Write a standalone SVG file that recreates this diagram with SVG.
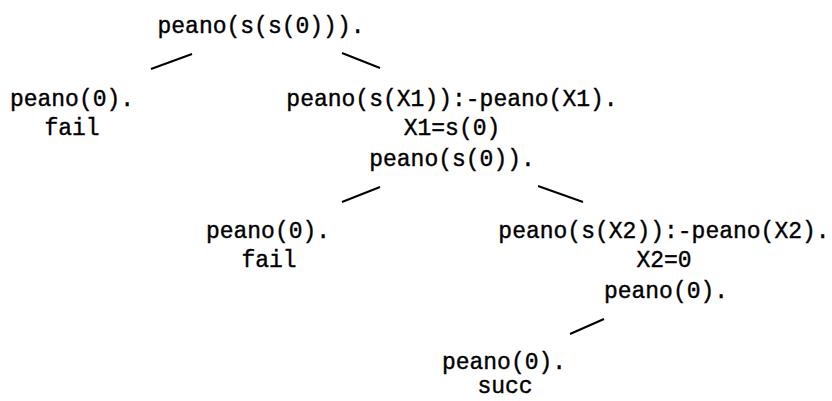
<svg xmlns="http://www.w3.org/2000/svg" width="832" height="401" viewBox="0 0 832 401">
<style>
text{font-family:"Liberation Mono","DejaVu Sans Mono",monospace;font-size:23px;fill:#000;stroke:#000;stroke-width:0.4;text-anchor:middle}
.c line{stroke:#000;stroke-width:2}
</style>
<rect width="832" height="401" fill="#fff"/>
<g class="c" id="connectors">
<line x1="192" y1="54" x2="151" y2="69"/>
<line x1="342" y1="53" x2="380" y2="68"/>
<line x1="380" y1="187" x2="342" y2="202"/>
<line x1="538" y1="186" x2="583" y2="202"/>
<line x1="604" y1="319" x2="570" y2="334"/>
</g>
<g id="root"><text x="261" y="33">peano(s(s(0))).</text></g>
<g id="n1"><text x="72" y="106">peano(0).</text><text x="72" y="135">fail</text></g>
<g id="n2"><text x="452" y="106">peano(s(X1)):-peano(X1).</text><text x="452" y="135">X1=s(0)</text><text x="452" y="166">peano(s(0)).</text></g>
<g id="n3"><text x="268" y="238">peano(0).</text><text x="269" y="267">fail</text></g>
<g id="n4"><text x="664" y="238">peano(s(X2)):-peano(X2).</text><text x="664" y="267">X2=0</text><text x="666" y="298">peano(0).</text></g>
<g id="n5"><text x="504" y="369">peano(0).</text><text x="505" y="393">succ</text></g>
</svg>
